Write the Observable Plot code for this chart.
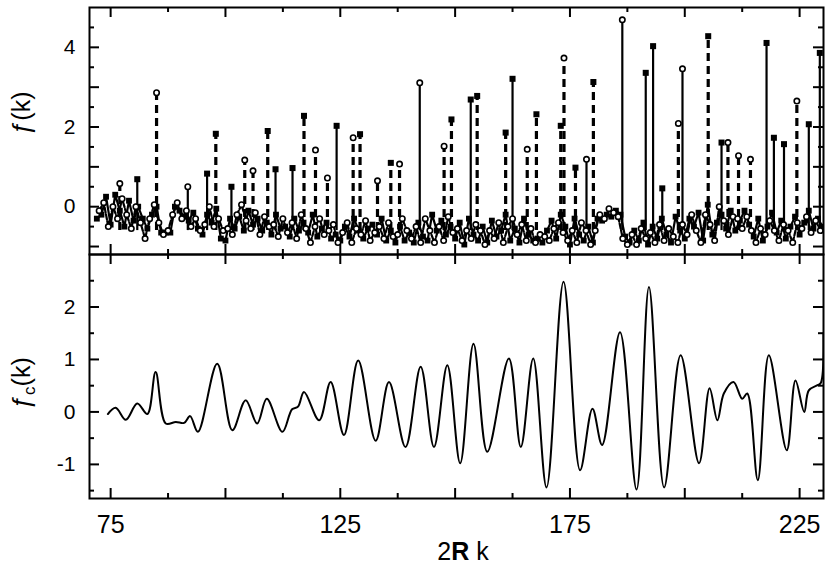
<!DOCTYPE html>
<html><head><meta charset="utf-8">
<script src="https://cdn.jsdelivr.net/npm/d3@7"></script>
<script src="https://cdn.jsdelivr.net/npm/@observablehq/plot@0.6"></script>
<style>
body{margin:0;background:#fff;}
#chart svg{display:block;background:transparent;}
</style></head><body><div id="chart"></div>
<script>
// ---------- data ----------
const xDomain = [70.4, 230.2];
const xMajorTicks = [75, 100, 125, 150, 175, 200, 225];
const xMinorTicks = [87.5, 112.5, 137.5, 162.5, 187.5, 212.5];
const xTickLabels = [75, 125, 175, 225];

const topYDomain = [-1.2, 5];
const topYMajor = [-1, 0, 1, 2, 3, 4];
const topYMinor = [-0.5, 0.5, 1.5, 2.5, 3.5, 4.5];
const topYLabels = [0, 2, 4];

const botYDomain = [-1.65, 3.0];
const botYMajor = [-1, 0, 1, 2];
const botYMinor = [-1.5, -0.5, 0.5, 1.5, 2.5];
const botYLabels = [-1, 0, 1, 2];

// top panel: spikes of f(k)
const stickK = [77, 80.8, 85, 91.8, 96, 97.9, 101.3, 104.2, 106, 109.2, 110.9, 114.6, 117.1, 119.6, 122.2, 124.2, 127.8, 129.3, 133.1, 136, 137.9, 142.3, 147.6, 149.2, 153.4, 154.8, 161, 162.5, 165.7, 167.7, 173, 173.7, 176.2, 178.6, 180.1, 186.4, 191.5, 193.1, 195.1, 198.6, 199.5, 205.1, 208, 209.4, 211.7, 214.3, 217.8, 219.4, 221.6, 224.4, 227, 229.4];
const stickPeak = [0.58, 0.69, 2.86, 0.5, 0.83, 1.83, 0.5, 1.17, 0.9, 1.9, 0.94, 0.97, 2.28, 1.42, 0.72, 2.03, 1.73, 1.82, 0.65, 1.1, 1.07, 3.11, 1.52, 2.19, 2.69, 2.78, 1.86, 3.21, 1.44, 2.32, 2.03, 3.73, 0.98, 1.19, 3.13, 4.69, 3.36, 4.03, 0.46, 2.09, 3.46, 4.28, 1.61, 1.61, 1.28, 1.19, 4.11, 1.73, 1.57, 2.65, 2.07, 3.86];
const stickSeries = ["d","s","d","s","s","d","s","d","d","d","s","s","d","d","d","s","d","d","d","d","d","s","d","d","s","d","d","s","d","d","d","d","d","s","d","s","s","s","s","d","s","d","s","d","d","d","s","s","s","d","s","s"];
const stickMarker = ["o","f","o","o","f","f","f","o","o","f","f","f","f","o","o","f","o","f","o","f","o","o","o","f","f","f","f","f","o","f","f","o","f","o","f","o","f","f","f","o","o","f","f","o","o","o","f","f","f","o","f","f"];
const stickFoot = -0.6;

// top panel: low-level fluctuations (solid / filled squares at integer k, dashed / open circles at half-integer k)
const lowAStart = 72;
const lowA = [-0.3,-0.2,0.25,-0.45,0.3,-0.1,-0.5,0.15,-0.35,0.0,
 -0.3,-0.55,-0.2,0.0,-0.65,-0.65,-0.65,0.0,-0.1,-0.25,
 -0.35,-0.15,-0.55,-0.7,-0.2,-0.4,-0.05,-0.8,-0.85,-0.3,
 -0.55,-0.25,-0.6,-0.1,-0.45,-0.3,-0.6,-0.4,-0.7,-0.2,
 -0.55,-0.5,-0.75,-0.3,-0.6,-0.4,-0.65,-0.2,-0.75,-0.55,
 -0.4,-0.8,-0.7,-0.85,-0.5,-0.75,-0.3,-0.6,-0.8,-0.55,
 -0.45,-0.7,-0.3,-0.85,-0.6,-0.9,-0.5,-0.85,-0.65,-0.9,
 -0.4,-0.75,-0.85,-0.2,-0.6,-0.35,-0.7,-0.5,-0.8,-0.4,
 -0.95,-0.3,-0.7,-0.85,-0.5,-0.9,-0.35,-0.75,-0.6,-0.2,
 -0.85,-0.55,-0.9,-0.3,-0.7,-0.85,-0.8,-0.9,-0.6,-0.35,
 -0.8,-0.2,-0.5,-0.95,-0.3,-0.7,-0.85,-0.5,-0.9,-0.3,
 -0.35,-0.2,-0.25,-0.1,-0.2,-0.75,-0.9,-0.6,-0.85,-0.4,
 -0.95,-0.5,-0.8,-0.3,-0.7,-0.9,-0.25,-0.6,-0.8,-0.3,
 -0.5,-0.15,-0.85,0.05,-0.7,-0.4,-0.2,-0.55,-0.1,-0.6,
 -0.35,-0.1,-0.45,-0.75,-0.3,-0.85,-0.5,-0.15,-0.65,-0.35,
 -0.8,-0.5,-0.25,-0.7,-0.4,-0.1,-0.55,-0.3,-0.5];
const lowBStart = 72.5;
const lowB = [-0.1,0.1,-0.5,0.0,-0.3,0.2,-0.2,-0.55,0.0,-0.4,
 -0.8,-0.3,0.05,-0.4,-0.7,-0.6,-0.2,0.1,-0.3,-0.1,
 -0.5,-0.3,-0.6,-0.45,0.0,-0.5,-0.3,-0.6,-0.55,-0.7,
 -0.2,0.05,-0.35,-0.55,-0.15,-0.7,-0.25,-0.5,-0.45,-0.75,
 -0.3,-0.65,-0.4,-0.8,-0.2,-0.55,-0.9,-0.5,-0.3,-0.7,
 -0.6,-0.45,-0.9,-0.65,-0.4,-0.9,-0.55,-0.7,-0.35,-0.85,
 -0.65,-0.5,-0.8,-0.4,-0.75,-0.7,-0.3,-0.6,-0.8,-0.5,
 -0.9,-0.3,-0.6,-0.9,-0.5,-0.85,-0.25,-0.65,-0.55,-0.85,
 -0.6,-0.8,-0.45,-0.6,-0.95,-0.6,-0.8,-0.4,-0.9,-0.5,
 -0.3,-0.7,-0.45,-0.85,-0.55,-0.9,-0.7,-0.75,-0.85,-0.55,
 -0.4,-0.65,-0.85,-0.6,-0.9,-0.4,-0.6,-0.95,-0.6,-0.2,
 -0.3,-0.05,-0.15,-0.25,-0.8,-0.95,-0.7,-0.95,-0.55,-0.8,
 -0.65,-0.9,-0.45,-0.85,-0.55,-0.75,-0.9,-0.45,-0.7,-0.2,
 -0.6,-0.9,-0.2,-0.45,-0.85,0.0,-0.35,-0.7,-0.25,-0.3,
 -0.55,-0.25,-0.6,-0.9,-0.55,-0.7,-0.35,-0.6,-0.85,-0.45,
 -0.6,-0.9,-0.4,-0.55,-0.25,-0.65,-0.35,-0.6];

// bottom panel: smoothed fc(k)
const fcK = [74.4,76.1,78.3,80.8,83,84.8,87,89.2,91,92.3,94,98.2,101.5,104.4,106.9,109,112.4,114.5,115.8,117.1,120.4,122.9,125.8,128.9,132.7,135.6,139.2,142.5,145.4,148.3,151.1,154,157,161.7,164.3,167,169.9,173.6,177.2,179.9,182,185.9,189.5,192.2,195.5,199.1,203.1,205.4,207.1,208.5,210.6,212.5,213.6,215.9,218.3,222.2,224.1,226,227,228.9,229.6,230.2];
const fcV = [-0.04,0.08,-0.15,0.16,-0.04,0.76,-0.22,-0.19,-0.21,-0.08,-0.38,0.92,-0.35,0.22,-0.22,0.25,-0.38,0.05,0.1,0.38,-0.16,0.57,-0.44,0.98,-0.55,0.57,-0.67,0.86,-0.67,0.89,-0.98,1.30,-0.76,1.02,-0.67,1.02,-1.44,2.48,-1.11,0.06,-0.63,1.52,-1.48,2.38,-1.44,1.08,-0.98,0.45,-0.16,0.35,0.57,0.25,0.35,-1.30,1.08,-0.73,0.6,0.0,0.41,0.51,0.55,1.5];

// ---------- tables ----------
const sticks = stickK.map((k, i) => ({k, peak: stickPeak[i], series: stickSeries[i], marker: stickMarker[i]}));
const lowASeries = lowA.map((v, i) => ({k: lowAStart + i, v}));
const lowBSeries = lowB.map((v, i) => ({k: lowBStart + i, v}));
const fc = fcK.map((k, i) => ({k, v: fcV[i]}));

// ---------- layout ----------
const W = 830, mL = 89, mR = 7;
const pw = W - mL - mR;
const font = "'Liberation Sans', Arial, sans-serif";
const fmt = d => String(d);

function frameTicks(yMaj, yMin, ph) {
  const L = 10, S = 5, sw = 2;
  return [
    Plot.tickY(yMaj, {y: d => d, insetRight: pw - L, strokeWidth: sw}),
    Plot.tickY(yMin, {y: d => d, insetRight: pw - S, strokeWidth: sw}),
    Plot.tickY(yMaj, {y: d => d, insetLeft: pw - L, strokeWidth: sw}),
    Plot.tickY(yMin, {y: d => d, insetLeft: pw - S, strokeWidth: sw}),
    Plot.tickX(xMajorTicks, {x: d => d, insetBottom: ph - L, strokeWidth: sw}),
    Plot.tickX(xMinorTicks, {x: d => d, insetBottom: ph - S, strokeWidth: sw}),
    Plot.tickX(xMajorTicks, {x: d => d, insetTop: ph - L, strokeWidth: sw}),
    Plot.tickX(xMinorTicks, {x: d => d, insetTop: ph - S, strokeWidth: sw})
  ];
}

// top panel
const topH = 256, topMT = 7, topMB = 2;
const topPlot = Plot.plot({
  width: W, height: topH,
  marginLeft: mL, marginRight: mR, marginTop: topMT, marginBottom: topMB,
  style: {fontFamily: font, fontSize: "21px", color: "#000", background: "transparent"},
  x: {domain: xDomain, axis: null},
  y: {domain: topYDomain, label: null},
  marks: [
    Plot.line(lowASeries, {x: "k", y: "v", stroke: "#000", strokeWidth: 2.2, clip: true}),
    Plot.line(lowBSeries, {x: "k", y: "v", stroke: "#000", strokeWidth: 2.2, strokeDasharray: "5,2", clip: true}),
    Plot.ruleX(sticks.filter(d => d.series === "s"), {x: "k", y1: stickFoot, y2: "peak", stroke: "#000", strokeWidth: 2.2}),
    Plot.ruleX(sticks.filter(d => d.series === "d"), {x: "k", y1: stickFoot, y2: "peak", stroke: "#000", strokeWidth: 3.2, strokeDasharray: "8,5"}),
    Plot.dot(lowASeries, {x: "k", y: "v", symbol: "square", fill: "#000", r: 3.3, clip: true}),
    Plot.dot(lowBSeries, {x: "k", y: "v", symbol: "circle", fill: "#fff", stroke: "#000", strokeWidth: 1.6, r: 2.7, clip: true}),
    Plot.dot(sticks.filter(d => d.marker === "f"), {x: "k", y: "peak", symbol: "square", fill: "#000", r: 3.4}),
    Plot.dot(sticks.filter(d => d.marker === "o"), {x: "k", y: "peak", symbol: "circle", fill: "#fff", stroke: "#000", strokeWidth: 1.6, r: 2.7}),
    ...frameTicks(topYMajor, topYMinor, topH - topMT - topMB),
    Plot.axisY({ticks: topYLabels, tickSize: 0, tickPadding: 14, tickFormat: fmt, label: null, fontSize: 21}),
    Plot.frame({stroke: "#000", strokeWidth: 2})
  ]
});

// bottom panel
const botH = 313, botMT = 2, botMB = 67;
const botPlot = Plot.plot({
  width: W, height: botH,
  marginLeft: mL, marginRight: mR, marginTop: botMT, marginBottom: botMB,
  style: {fontFamily: font, fontSize: "21px", color: "#000", background: "transparent"},
  x: {domain: xDomain, label: null},
  y: {domain: botYDomain, label: null},
  marks: [
    Plot.line(fc, {x: "k", y: "v", stroke: "#000", strokeWidth: 2, curve: "catmull-rom", clip: true}),
    ...frameTicks(botYMajor, botYMinor, botH - botMT - botMB),
    Plot.axisY({ticks: botYLabels, tickSize: 0, tickPadding: 14, tickFormat: fmt, label: null, fontSize: 21}),
    Plot.axisX({ticks: xTickLabels, tickSize: 0, tickPadding: 17, tickFormat: fmt, label: null, fontSize: 25}),
    Plot.frame({stroke: "#000", strokeWidth: 2})
  ]
});
botPlot.style.marginTop = "-4px";

const chart = document.getElementById("chart");
chart.append(topPlot, botPlot);

// axis titles
d3.select(topPlot).append("text")
  .attr("transform", "translate(30,113) rotate(-90)")
  .attr("text-anchor", "middle")
  .attr("font-family", font).attr("font-size", 25).attr("fill", "#000")
  .text("ƒ(k)");

const yl = d3.select(botPlot).append("text")
  .attr("transform", "translate(30,131) rotate(-90)")
  .attr("text-anchor", "middle")
  .attr("font-family", font).attr("font-size", 25).attr("fill", "#000");
yl.append("tspan").text("ƒ");
yl.append("tspan").attr("font-size", 17).attr("dy", 5).text("c");
yl.append("tspan").attr("dy", -5).text("(k)");

const xl = d3.select(botPlot).append("text")
  .attr("x", 463).attr("y", 308)
  .attr("text-anchor", "middle")
  .attr("font-family", font).attr("font-size", 25).attr("fill", "#000");
xl.append("tspan").text("2");
xl.append("tspan").attr("font-weight", "bold").text("R");
xl.append("tspan").text(" k");
</script>
</body></html>
